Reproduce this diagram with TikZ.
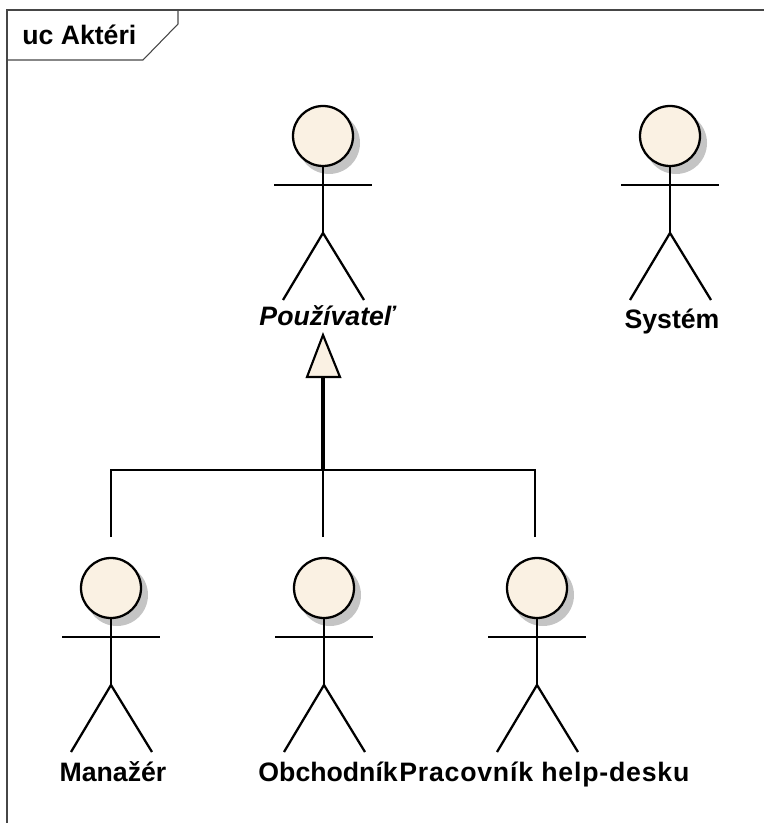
\documentclass[tikz,border=0pt]{standalone}
\usepackage{fontspec}
\setmainfont{Liberation Sans}
\definecolor{actorfill}{RGB}{250,241,227}
\definecolor{shadowgray}{RGB}{196,196,196}
\definecolor{framegray}{RGB}{70,70,70}
\begin{document}
\begin{tikzpicture}[
    x=0.75pt, y=-0.75pt,
    limb/.style={draw=black, line width=1.7pt},
    wire/.style={draw=black, line width=1.6pt},
    title/.style={font=\fontsize{20pt}{24pt}\selectfont\bfseries, inner sep=0pt, anchor=base},
    actor/.pic={
        \fill[shadowgray] (6,7) circle[radius=31];
        \node[circle, limb, fill=actorfill, minimum size=45pt, inner sep=0pt] (-head) at (0,0) {};
        \coordinate (-hip) at (0,97);
        \draw[limb] (-head.south) -- (-hip);
        \draw[limb] (-49,49) -- (49,49);
        \draw[limb] (-40,164) -- (-hip) -- (41,164);
    }
]
    \useasboundingbox (0,0) rectangle (764,823);

    % Frame and its tag
    \draw[framegray, line width=0.8pt] (7,823) -- (7,10) -- (764,10);
    \draw[framegray, line width=0.8pt] (7,60) -- (143,60) -- (178,24) -- (178,10);
    \node[title, anchor=base west] (frametag) at (22,45) {uc Aktéri};

    % Actors
    \pic (user) at (323,136) {actor};
    \pic (system) at (670,136) {actor};
    \pic (manager) at (111,588) {actor};
    \pic (sales) at (324,588) {actor};
    \pic (helpdesk) at (537,588) {actor};

    % Labels
    \node[title, font=\fontsize{20pt}{24pt}\selectfont\bfseries\itshape] (userlabel) at (327,325) {Používateľ};
    \node[title] (systemlabel) at (672,328) {Systém};
    \node[title] (managerlabel) at (113,781) {Manažér};
    \node[title, anchor=base east] (saleslabel) at (398,781) {Obchodník};
    \node[title, anchor=base west] (helpdesklabel) at (399,781) {\addfontfeature{LetterSpace=3}Pracovník help-desku};

    % Generalization
    \coordinate (hub) at (323,470);
    \coordinate (tip) at (323,335);
    \coordinate (base) at (323,377);
    \draw[line width=2.6pt] (base) -- (hub);
    \draw[wire, fill=actorfill, line join=miter] (tip) -- (340,377) -- (307,377) -- cycle;

    % Branches
    \coordinate (managertop) at (111,537);
    \coordinate (salestop) at (323,537);
    \coordinate (helpdesktop) at (535,537);
    \draw[wire] (managertop) |- (hub);
    \draw[wire] (helpdesktop) |- (hub);
    \draw[wire] (salestop) -- (hub);
\end{tikzpicture}
\end{document}
